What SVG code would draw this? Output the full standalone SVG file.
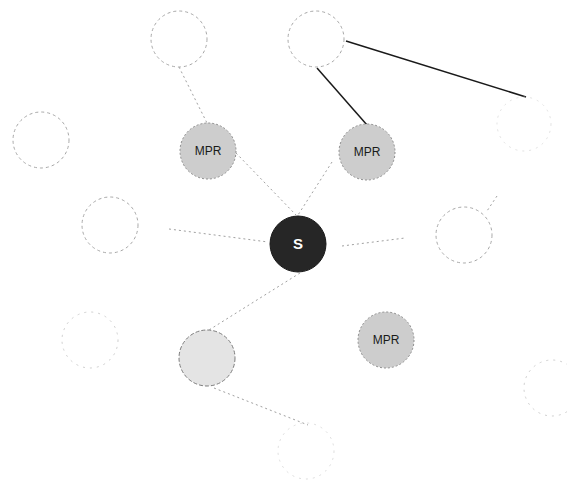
<svg xmlns="http://www.w3.org/2000/svg" width="567" height="486" viewBox="0 0 567 486">
<style>
.n{fill:none;stroke:#a8a8a8;stroke-width:1;stroke-dasharray:3 3}
.f{stroke:#cfcfcf;stroke-dasharray:2 5}
.mpr{fill:#cdcdcd;stroke:#8c8c8c;stroke-width:1;stroke-dasharray:2 2}
.lt{fill:#e4e4e4;stroke:#7c7c7c;stroke-width:1;stroke-dasharray:4 2}
.s{fill:#262626;stroke:#1a1a1a}
.c{fill:none;stroke:#a0a0a0;stroke-width:1;stroke-dasharray:2 3}
.b{fill:none;stroke:#1a1a1a;stroke-width:1.5}
.t{font-family:"Liberation Sans",Arial,sans-serif;font-size:12px;fill:#1a1a1a;text-anchor:middle}
.ts{font-family:"Liberation Sans",Arial,sans-serif;font-size:15px;font-weight:bold;fill:#ffffff;text-anchor:middle}
</style>
<rect width="567" height="486" fill="#ffffff"/>
<g id="connectors">
<line class="c" x1="179" y1="67" x2="207" y2="123"/>
<line class="c" x1="236" y1="153" x2="296" y2="215"/>
<line class="c" x1="332" y1="162" x2="298" y2="215"/>
<line class="c" x1="169" y1="229" x2="268" y2="242"/>
<line class="c" x1="342" y1="246" x2="405" y2="238"/>
<line class="c" x1="497" y1="196" x2="487" y2="211"/>
<line class="c" x1="300" y1="273" x2="209" y2="330"/>
<line class="c" x1="214" y1="388" x2="308" y2="425"/>
<line class="b" x1="346" y1="41" x2="526" y2="97"/>
<line class="b" x1="317" y1="68" x2="367" y2="125"/>
</g>
<g id="n-topleft"><circle class="n" cx="179" cy="39" r="28"/></g>
<g id="n-topmid"><circle class="n" cx="316" cy="39" r="28"/></g>
<g id="n-topright"><circle class="n f" cx="524" cy="124" r="27" stroke-opacity="0.6"/></g>
<g id="n-farleft"><circle class="n" cx="41" cy="140" r="28"/></g>
<g id="mpr1"><circle class="mpr" cx="208" cy="151" r="28"/><text class="t" x="208" y="155">MPR</text></g>
<g id="mpr2"><circle class="mpr" cx="367" cy="152" r="28"/><text class="t" x="367" y="156">MPR</text></g>
<g id="n-left"><circle class="n" cx="110" cy="225" r="28"/></g>
<g id="s"><circle class="s" cx="298" cy="244" r="28"/><text class="ts" x="298" y="249">S</text></g>
<g id="n-right"><circle class="n" cx="464" cy="235" r="28"/></g>
<g id="n-lowerleft"><circle class="n f" cx="90" cy="340" r="28"/></g>
<g id="n-lower"><circle class="lt" cx="207" cy="358" r="28"/></g>
<g id="mpr3"><circle class="mpr" cx="386" cy="340" r="28"/><text class="t" x="386" y="344">MPR</text></g>
<g id="n-farright"><circle class="n f" cx="552" cy="388" r="28"/></g>
<g id="n-bottom"><circle class="n f" cx="306" cy="451" r="28" stroke-opacity="0.7"/></g>
</svg>
